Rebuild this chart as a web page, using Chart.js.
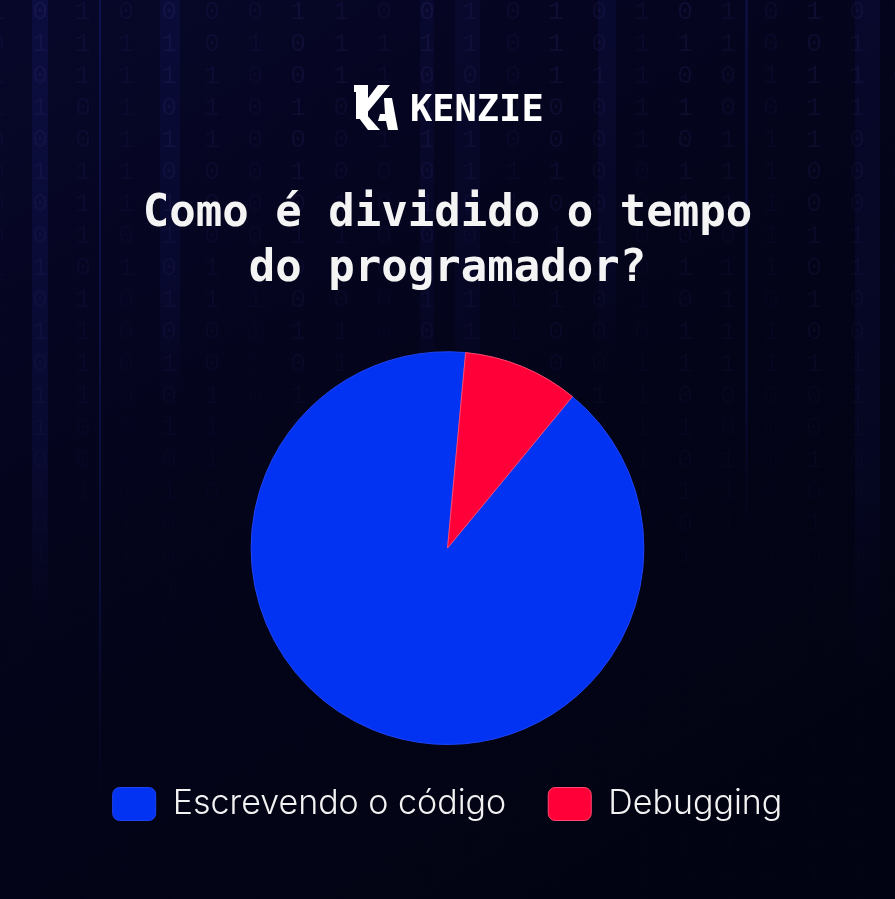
<!DOCTYPE html>
<html>
<head>
<meta charset="utf-8">
<script src="https://cdn.jsdelivr.net/npm/chart.js@4"></script>
<style>
  html, body { margin: 0; padding: 0; background: #04041a; }
  #wrap { width: 895px; height: 899px; position: relative; }
</style>
</head>
<body>
<div id="wrap"><canvas id="c" width="895" height="899"></canvas></div>
<script>
// ---- data ----
const categories = ['Escrevendo o código', 'Debugging'];
const values = [90.5, 9.5];
const sliceColors = ['#0232f2', '#ff0038'];
const sliceBorders = ['#1d44f5', '#ff4a72'];
const titleLines = ['Como é dividido o tempo', 'do programador?'];
const brandName = 'KENZIE';

// ---- decorative background (binary rain) ----
const BG_BITS = '10100110110100101101001011010010110010110100110101';
const bgPlugin = {
  id: 'bg',
  beforeDraw(chart) {
    const ctx = chart.ctx;
    const W = chart.width, H = chart.height;
    ctx.save();
    const g = ctx.createLinearGradient(0, 0, W * 0.6, H);
    g.addColorStop(0, '#07072a');
    g.addColorStop(0.5, '#04041b');
    g.addColorStop(1, '#020312');
    ctx.fillStyle = g;
    ctx.fillRect(0, 0, W, H);
    // soft vertical bands
    const bands = [[32, 16, 0.16, 0.7], [99, 2, 0.30, 0.9], [160, 20, 0.12, 0.45], [420, 14, 0.08, 0.5], [455, 25, 0.07, 0.6], [598, 18, 0.10, 0.4], [745, 3, 0.2, 0.6], [855, 25, 0.10, 0.75]];
    bands.forEach(([x, w, a, end]) => {
      const bg = ctx.createLinearGradient(0, 0, 0, H);
      bg.addColorStop(0, `rgba(35,45,170,${a})`);
      bg.addColorStop(end * 0.7, `rgba(35,45,170,${a * 0.8})`);
      bg.addColorStop(end, `rgba(35,45,170,0)`);
      bg.addColorStop(1, `rgba(35,45,170,0)`);
      ctx.fillStyle = bg;
      ctx.fillRect(x, 0, w, H);
    });
    // digits
    ctx.font = '26px "Liberation Mono", "DejaVu Sans Mono", monospace';
    ctx.textAlign = 'center';
    ctx.textBaseline = 'middle';
    for (let col = 0; col < 22; col++) {
      const x = -3 + col * 43;
      const colA = 0.6 + 0.4 * ((col * 5) % 3) / 2;
      for (let row = 0; row < 29; row++) {
        const y = 12 + row * 32;
        const ch = BG_BITS[(col * 7 + row * 3 + (col % 3) * row) % BG_BITS.length];
        const fade = Math.max(0.01, 0.11 - (y / H) * 0.13) * colA;
        ctx.fillStyle = `rgba(110,85,200,${fade})`;
        ctx.fillText(ch, x, y);
      }
    }
    ctx.restore();
  }
};

// ---- logo ----
const logoPlugin = {
  id: 'logo',
  afterDraw(chart) {
    const ctx = chart.ctx;
    ctx.save();
    ctx.fillStyle = '#ffffff';
    // stylised "KA" monogram
    ctx.beginPath();
    ctx.moveTo(354, 85); ctx.lineTo(368, 85); ctx.lineTo(368, 119); ctx.lineTo(356, 119); ctx.lineTo(356, 92); ctx.lineTo(354, 92);
    ctx.closePath(); ctx.fill();
    ctx.beginPath();
    ctx.moveTo(378, 85); ctx.lineTo(390, 85); ctx.lineTo(366, 114); ctx.lineTo(380, 130); ctx.lineTo(368, 130); ctx.lineTo(356, 114);
    ctx.closePath(); ctx.fill();
    ctx.beginPath();
    ctx.moveTo(384, 98); ctx.lineTo(392, 98); ctx.lineTo(398, 130); ctx.lineTo(388, 130); ctx.lineTo(386, 121); ctx.lineTo(378, 121); ctx.lineTo(380, 114); ctx.lineTo(385, 114);
    ctx.closePath(); ctx.fill();
    ctx.font = 'bold 37px "DejaVu Sans Mono", monospace';
    ctx.textBaseline = 'alphabetic';
    ctx.textAlign = 'left';
    ctx.fillText(brandName, 410, 121);
    ctx.restore();
  }
};

new Chart(document.getElementById('c'), {
  type: 'pie',
  data: {
    labels: categories,
    datasets: [{
      data: values,
      backgroundColor: sliceColors,
      borderColor: sliceBorders,
      borderWidth: 1,
      hoverOffset: 0
    }]
  },
  plugins: [bgPlugin, logoPlugin],
  options: {
    responsive: false,
    animation: false,
    rotation: 39.5,
    layout: { padding: { top: 0, bottom: 68, left: 0, right: 0 } },
    plugins: {
      title: {
        display: true,
        text: titleLines,
        color: '#f4f4f4',
        font: { family: '"DejaVu Sans Mono", monospace', weight: 'bold', size: 44, lineHeight: 1.23 },
        padding: { top: 188, bottom: 55 }
      },
      legend: {
        position: 'bottom',
        labels: {
          color: '#f2f2f2',
          boxWidth: 43,
          boxHeight: 33,
          useBorderRadius: true,
          borderRadius: 7,
          padding: 42,
          font: { family: 'Inter, "Noto Sans", sans-serif', weight: '300', size: 34 }
        }
      },
      tooltip: { enabled: false }
    }
  }
});
</script>
</body>
</html>
